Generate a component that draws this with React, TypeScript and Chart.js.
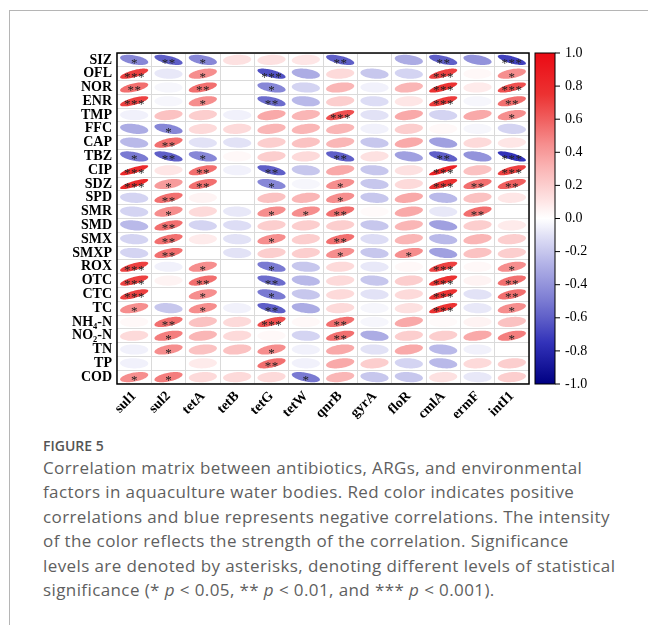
import React, { useEffect, useRef } from 'react';
import { Chart, registerables } from 'chart.js';
Chart.register(...registerables);

const rowLabels = ['SIZ', 'OFL', 'NOR', 'ENR', 'TMP', 'FFC', 'CAP', 'TBZ', 'CIP', 'SDZ', 'SPD', 'SMR', 'SMD', 'SMX', 'SMXP', 'ROX', 'OTC', 'CTC', 'TC', 'NH₄-N', 'NO₂-N', 'TN', 'TP', 'COD'];
const colLabels = ['sul1', 'sul2', 'tetA', 'tetB', 'tetG', 'tetW', 'qnrB', 'gyrA', 'floR', 'cmlA', 'ermF', 'intI1'];

// correlation coefficients per gene (rows in rowLabels order)
const sul1 = [-0.45, 0.7, 0.55, 0.7, -0.05, -0.3, -0.25, -0.5, 0.8, 0.8, -0.15, -0.15, -0.25, -0.15, -0.15, 0.7, 0.7, 0.7, 0.45, 0.03, 0.15, -0.05, -0.05, 0.45];
const sul2 = [-0.6, -0.08, -0.03, -0.03, 0.25, -0.45, 0.55, -0.6, 0.1, 0.4, 0.55, 0.45, 0.55, 0.55, 0.55, -0.05, 0.05, 0, -0.2, 0.55, 0.5, 0.45, 0, 0.5];
const tetA = [-0.45, 0.45, 0.55, 0.45, 0.2, 0.15, -0.1, -0.45, 0.55, 0.55, 0.05, 0.15, -0.15, 0.08, 0, 0.45, 0.55, 0.45, 0.45, 0.25, 0.3, 0.25, 0.08, 0.15];
const tetB = [0.12, 0, 0, 0, -0.05, 0.15, -0.1, 0.03, -0.05, 0, 0, -0.08, -0.12, -0.1, -0.1, 0, 0, 0, -0.05, 0.15, 0.15, 0.25, 0, 0.15];
const tetG = [0.12, -0.65, -0.45, -0.55, 0.35, 0.3, 0.2, 0.2, -0.6, -0.45, 0.25, 0.45, 0.2, 0.45, 0.2, -0.5, -0.55, -0.5, -0.6, 0.65, 0.03, 0.45, 0.55, 0.15];
const tetW = [0.1, -0.3, -0.15, -0.25, 0.3, 0.3, 0.25, 0.15, -0.2, -0.03, 0.3, 0.45, 0.2, 0.2, 0.2, -0.2, -0.25, -0.2, -0.3, 0.03, -0.15, -0.05, -0.05, -0.5];
const qnrB = [-0.6, 0.15, 0.3, 0.2, 0.65, 0.3, 0.3, -0.6, 0.35, 0.45, 0.45, 0.55, 0.2, 0.55, 0.45, 0.15, 0.15, 0.15, 0.15, 0.55, 0.55, 0.35, 0.35, 0.3];
const gyrA = [0, -0.2, -0.05, -0.12, -0.1, -0.05, -0.2, 0.12, -0.2, -0.2, -0.2, 0.02, -0.2, -0.12, -0.2, -0.08, -0.2, -0.1, -0.03, -0.03, -0.3, -0.1, 0.2, -0.2];
const floR = [-0.3, -0.15, 0.3, 0.1, 0.35, 0.2, 0.35, -0.35, 0.12, 0.15, 0.35, 0.35, 0.3, 0.3, 0.45, 0.03, 0.2, 0.15, 0.12, 0.35, 0.2, 0.35, -0.15, -0.2];
const cmlA = [-0.6, 0.7, 0.75, 0.72, -0.15, 0.03, -0.35, -0.6, 0.85, 0.75, -0.25, -0.08, -0.35, -0.25, -0.35, 0.7, 0.75, 0.75, 0.75, 0.02, 0.2, -0.25, -0.25, 0.12];
const ermF = [-0.4, 0.03, 0.08, -0.03, 0.35, -0.03, 0.15, -0.4, 0.25, 0.55, 0.25, 0.55, 0.2, 0.3, 0.25, 0.03, 0.05, -0.1, -0.08, 0.05, 0.35, -0.05, 0.15, -0.08];
const intI1 = [-0.7, 0.45, 0.65, 0.55, 0.45, -0.15, 0.1, -0.75, 0.7, 0.6, 0.1, 0, 0.08, 0.2, 0.2, 0.45, 0.55, 0.55, 0.45, 0.25, 0.5, 0, 0.2, 0.2];

// significance level (number of asterisks) per gene
const sul1Sig = [1, 3, 2, 3, 0, 0, 0, 1, 3, 3, 0, 0, 0, 0, 0, 3, 3, 3, 1, 0, 0, 0, 0, 1];
const sul2Sig = [2, 0, 0, 0, 0, 1, 2, 2, 0, 1, 2, 1, 2, 2, 2, 0, 0, 0, 0, 2, 1, 1, 0, 1];
const tetASig = [1, 1, 2, 1, 0, 0, 0, 1, 2, 2, 0, 0, 0, 0, 0, 1, 2, 1, 1, 0, 0, 0, 0, 0];
const tetBSig = [0, 0, 0, 0, 0, 0, 0, 0, 0, 0, 0, 0, 0, 0, 0, 0, 0, 0, 0, 0, 0, 0, 0, 0];
const tetGSig = [0, 3, 1, 2, 0, 0, 0, 0, 2, 1, 0, 1, 0, 1, 0, 1, 2, 1, 2, 3, 0, 1, 2, 0];
const tetWSig = [0, 0, 0, 0, 0, 0, 0, 0, 0, 0, 0, 1, 0, 0, 0, 0, 0, 0, 0, 0, 0, 0, 0, 1];
const qnrBSig = [2, 0, 0, 0, 3, 0, 0, 2, 0, 1, 1, 2, 0, 2, 1, 0, 0, 0, 0, 2, 2, 0, 0, 0];
const gyrASig = [0, 0, 0, 0, 0, 0, 0, 0, 0, 0, 0, 0, 0, 0, 0, 0, 0, 0, 0, 0, 0, 0, 0, 0];
const floRSig = [0, 0, 0, 0, 0, 0, 0, 0, 0, 0, 0, 0, 0, 0, 1, 0, 0, 0, 0, 0, 0, 0, 0, 0];
const cmlASig = [2, 3, 3, 3, 0, 0, 0, 2, 3, 3, 0, 0, 0, 0, 0, 3, 3, 3, 3, 0, 0, 0, 0, 0];
const ermFSig = [0, 0, 0, 0, 0, 0, 0, 0, 0, 2, 0, 2, 0, 0, 0, 0, 0, 0, 0, 0, 0, 0, 0, 0];
const intI1Sig = [3, 1, 3, 2, 1, 0, 0, 3, 3, 2, 0, 0, 0, 0, 0, 1, 2, 2, 1, 0, 1, 0, 0, 0];

const corrCols = [sul1, sul2, tetA, tetB, tetG, tetW, qnrB, gyrA, floR, cmlA, ermF, intI1];
const sigCols = [sul1Sig, sul2Sig, tetASig, tetBSig, tetGSig, tetWSig, qnrBSig, gyrASig, floRSig, cmlASig, ermFSig, intI1Sig];

const colorStops: [number, number[]][] = [
  [-1, [0, 0, 130]],
  [-0.75, [50, 50, 185]],
  [-0.6, [95, 95, 200]],
  [-0.45, [135, 135, 215]],
  [-0.3, [172, 172, 228]],
  [-0.15, [212, 212, 242]],
  [0, [255, 255, 255]],
  [0.15, [253, 218, 218]],
  [0.3, [250, 182, 182]],
  [0.45, [246, 142, 142]],
  [0.6, [240, 95, 95]],
  [0.75, [236, 50, 50]],
  [1, [235, 10, 20]],
];

function corrColor(r: number): string {
  for (let k = 0; k < colorStops.length - 1; k++) {
    const [a, ca] = colorStops[k];
    const [b, cb] = colorStops[k + 1];
    if (r >= a && r <= b) {
      const t = (r - a) / (b - a);
      const c = ca.map((v, i) => Math.round(v + (cb[i] - v) * t));
      return `rgb(${c[0]},${c[1]},${c[2]})`;
    }
  }
  return r < 0 ? 'rgb(0,0,130)' : 'rgb(235,10,20)';
}

const SERIF = '"Liberation Serif", "Times New Roman", serif';

const corrPlugin = {
  id: 'corrEllipses',
  afterDatasetsDraw(chart: any) {
    const { ctx, scales } = chart;
    const xs = scales.x;
    const ys = scales.y;
    const cw = Math.abs(xs.getPixelForValue(1) - xs.getPixelForValue(0));
    const ch = Math.abs(ys.getPixelForValue(1) - ys.getPixelForValue(0));
    const sx = cw * 0.41;
    const sy = ch * 0.37;
    ctx.save();
    corrCols.forEach((col, j) => {
      col.forEach((r, i) => {
        const cx = xs.getPixelForValue(j);
        const cy = ys.getPixelForValue(i);
        const d = Math.acos(Math.max(-1, Math.min(1, r)));
        ctx.beginPath();
        const n = 72;
        for (let s = 0; s <= n; s++) {
          const t = (s / n) * Math.PI * 2;
          const px = cx + sx * Math.cos(t + d / 2);
          const py = cy - sy * Math.cos(t - d / 2);
          if (s === 0) ctx.moveTo(px, py);
          else ctx.lineTo(px, py);
        }
        ctx.closePath();
        ctx.fillStyle = corrColor(r);
        ctx.fill();
        const k = sigCols[j][i];
        if (k > 0) {
          ctx.fillStyle = '#222';
          ctx.font = `13px ${SERIF}`;
          ctx.textAlign = 'center';
          ctx.textBaseline = 'alphabetic';
          for (let q = 0; q < k; q++) {
            ctx.fillText('*', cx + (q - (k - 1) / 2) * 7, cy + 7);
          }
        }
      });
    });
    ctx.restore();
  },
  afterDraw(chart: any) {
    const { ctx, chartArea, scales } = chart;
    ctx.save();
    ctx.strokeStyle = '#000';
    ctx.lineWidth = 1.5;
    ctx.strokeRect(chartArea.left, chartArea.top, chartArea.right - chartArea.left, chartArea.bottom - chartArea.top);
    // colour bar
    const cb = scales.cb;
    const top = cb.getPixelForValue(1);
    const bottom = cb.getPixelForValue(-1);
    const x0 = chartArea.right + 6;
    const w = 20;
    const grad = ctx.createLinearGradient(0, bottom, 0, top);
    for (let s = 0; s <= 40; s++) {
      const v = -1 + s * 0.05;
      grad.addColorStop(s / 40, corrColor(v));
    }
    ctx.fillStyle = grad;
    ctx.fillRect(x0, top, w, bottom - top);
    ctx.lineWidth = 1;
    ctx.strokeStyle = '#000';
    ctx.strokeRect(x0, top, w, bottom - top);
    cb.ticks.forEach((t: any) => {
      const y = cb.getPixelForValue(t.value);
      ctx.beginPath();
      ctx.moveTo(x0 + w, y);
      ctx.lineTo(x0 + w + 5, y);
      ctx.stroke();
    });
    ctx.restore();
  },
};

export default function App() {
  const ref = useRef<HTMLCanvasElement>(null);
  useEffect(() => {
    if (!ref.current) return;
    const cells: { x: string; y: string }[] = [];
    colLabels.forEach((c) => rowLabels.forEach((r) => cells.push({ x: c, y: r })));
    const chart = new Chart(ref.current, {
      type: 'scatter',
      data: {
        datasets: [{ data: cells as any, pointRadius: 0, pointHoverRadius: 0, showLine: false }],
      },
      options: {
        animation: false,
        responsive: false,
        events: [],
        layout: { padding: { top: 53, left: 0, right: 0, bottom: 0 } },
        plugins: { legend: { display: false }, tooltip: { enabled: false } },
        scales: {
          x: {
            type: 'category',
            labels: colLabels,
            offset: true,
            position: 'bottom',
            grid: { offset: true, color: '#dadada', drawTicks: false },
            border: { display: false },
            ticks: {
              autoSkip: false,
              maxRotation: 45,
              minRotation: 45,
              padding: 4,
              color: '#000',
              font: { family: SERIF, size: 14, weight: 'bold' },
            },
            afterFit: (s: any) => { s.height = 46; },
          },
          y: {
            type: 'category',
            labels: rowLabels,
            offset: true,
            position: 'left',
            grid: { offset: true, color: '#dadada', drawTicks: false },
            border: { display: false },
            ticks: {
              autoSkip: false,
              padding: 5,
              color: '#000',
              font: { family: SERIF, size: 14, weight: 'bold' },
            },
            afterFit: (s: any) => { s.width = 117; },
          },
          cb: {
            type: 'linear',
            position: 'right',
            min: -1,
            max: 1,
            grid: { display: false, drawOnChartArea: false },
            border: { display: false },
            ticks: {
              stepSize: 0.2,
              padding: 28,
              color: '#000',
              font: { family: SERIF, size: 14 },
              callback: (v: any) => Number(v).toFixed(1),
            },
            afterFit: (s: any) => { s.width = 119; },
          },
        },
      } as any,
      plugins: [corrPlugin],
    });
    return () => chart.destroy();
  }, []);

  const capFont = '"Open Sans", "Noto Sans", sans-serif';
  return (
    <div style={{ position: 'absolute', left: 0, top: 0, width: 648, height: 625, overflow: 'hidden', background: '#fff' }}>
      <div style={{ position: 'absolute', left: 9, top: 10, width: 700, height: 700, borderLeft: '1.5px solid #b5b5b5', borderTop: '1.5px solid #b5b5b5' }} />
      <canvas ref={ref} width={648} height={430} style={{ position: 'absolute', left: 0, top: 0, width: 648, height: 430 }} />
      <div style={{ position: 'absolute', left: 43, top: 438, font: `600 14px ${capFont}`, lineHeight: '16px', color: '#555', whiteSpace: 'nowrap' }}>FIGURE 5</div>
      <div style={{ position: 'absolute', left: 43, top: 456, font: `17px ${capFont}`, letterSpacing: '0.4px', lineHeight: '24.4px', color: '#5f5f5f', whiteSpace: 'nowrap' }}>
        Correlation matrix between antibiotics, ARGs, and environmental<br />
        factors in aquaculture water bodies. Red color indicates positive<br />
        correlations and blue represents negative correlations. The intensity<br />
        of the color reflects the strength of the correlation. Significance<br />
        levels are denoted by asterisks, denoting different levels of statistical<br />
        significance (* <i>p</i> &lt; 0.05, ** <i>p</i> &lt; 0.01, and *** <i>p</i> &lt; 0.001).
      </div>
    </div>
  );
}
